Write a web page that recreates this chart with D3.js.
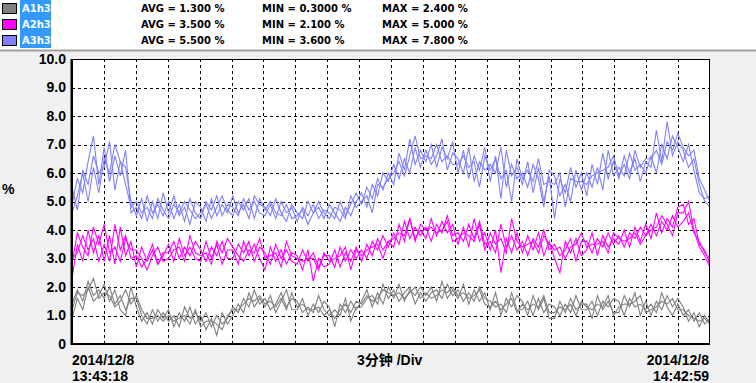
<!DOCTYPE html>
<html>
<head>
<meta charset="utf-8">
<script src="https://cdn.jsdelivr.net/npm/d3@7"></script>
<style>
body { margin: 0; background: #f0f0f0; }
svg { display: block; }
</style>
</head>
<body>
<svg id="chart"></svg>
<script>
// harmonic trend data, 120 samples per trace (6 per division), 3 traces per harmonic
const names = ["A1h3", "A2h3", "A3h3"];
const colors = ["#808080", "#ff00ff", "#8080ff"];
const avgs = ["1.300", "3.500", "5.500"];
const mins = ["0.3000", "2.100", "3.600"];
const maxs = ["2.400", "5.000", "7.800"];
const yTicks = [0, 1, 2, 3, 4, 5, 6, 7, 8, 9, 10];
const startLabel = ["2014/12/8", "13:43:18"];
const endLabel = ["2014/12/8", "14:42:59"];
const divLabel = "3分钟 /Div";

const a1 = [
[0.9,1.6,1.2,2.0,1.5,1.7, 2.1,1.5,1.9,1.2,1.0,2.0, 1.3,0.8,1.1,0.7,1.2,0.9, 1.2,0.6,1.1,0.8,1.3,0.7,
 1.0,0.5,0.9,0.3,1.1,0.7, 1.0,1.4,1.1,1.8,1.3,1.6, 1.3,1.7,1.1,1.5,1.9,1.2, 1.2,1.6,1.0,1.4,1.1,1.5,
 1.3,0.6,1.4,1.1,1.5,1.2, 1.5,1.9,1.3,1.8,1.4,2.0, 1.6,2.1,1.5,1.9,1.7,2.0, 1.7,2.0,1.5,2.2,1.6,1.9,
 1.6,2.1,1.4,1.9,1.5,1.8, 1.2,1.8,1.0,1.6,1.3,1.7, 1.5,1.0,1.7,1.2,1.6,0.9, 0.9,1.5,1.1,1.6,1.2,1.4,
 1.4,0.9,1.7,1.2,1.5,1.1, 1.1,1.7,1.3,1.8,1.0,1.5, 1.0,1.5,1.2,1.7,1.3,1.6, 1.3,0.8,1.1,0.6,1.0,0.7],
[1.4,1.9,1.5,2.2,1.7,1.9, 1.6,2.0,1.4,1.7,1.2,1.6, 1.6,1.0,0.7,1.2,0.8,1.1, 0.8,1.0,0.6,1.3,0.9,1.1,
 0.8,1.1,0.6,1.0,0.7,0.9, 1.3,1.1,1.6,1.3,1.9,1.4, 1.6,1.2,1.4,1.8,1.3,1.6, 1.5,1.1,1.3,1.1,1.7,1.2,
 1.0,1.2,1.0,1.6,0.8,1.3, 1.3,1.6,1.7,1.4,2.1,1.6, 1.9,1.5,1.8,2.0,1.4,1.8, 1.5,1.8,1.9,1.6,2.1,1.7,
 1.9,1.5,1.8,1.5,2.0,1.6, 1.5,1.3,1.4,1.1,1.8,1.2, 1.2,1.5,1.0,1.6,1.1,1.4, 1.3,1.0,1.4,1.1,1.7,1.2,
 1.2,1.5,1.0,1.5,1.3,1.6, 1.5,1.0,1.6,1.3,1.4,1.2, 1.4,1.1,1.8,1.3,1.0,1.4, 1.0,1.2,0.8,1.1,0.7,0.9],
[1.2,1.8,1.7,1.9,2.3,1.6, 1.8,1.7,1.3,1.5,1.9,1.4, 1.7,1.2,0.9,0.9,1.0,0.8, 1.0,0.8,0.9,1.0,0.7,1.2,
 0.6,0.8,0.8,0.7,0.5,1.0, 1.2,1.2,1.4,1.6,1.5,1.7, 1.4,1.5,1.3,1.6,1.2,1.8, 1.3,1.4,1.2,1.2,1.3,1.0,
 1.2,0.9,1.2,1.4,1.1,1.5, 1.4,1.7,1.5,1.6,1.9,1.8, 1.7,1.8,1.6,1.8,2.0,1.6, 1.8,1.6,1.7,1.9,1.8,2.0,
 1.7,1.8,1.6,1.7,1.9,1.4, 1.3,1.5,1.2,1.4,1.6,1.1, 1.4,1.2,1.4,1.3,1.7,1.1, 1.1,1.3,1.2,1.4,1.0,1.5,
 1.3,1.2,1.4,1.3,1.7,1.0, 1.3,1.4,1.4,1.5,1.7,1.1, 1.2,1.3,1.5,1.4,1.6,1.2, 1.2,1.0,0.9,0.8,0.9,0.7]
];
const a2 = [
[2.3,3.5,2.9,4.0,3.2,3.8, 2.9,3.8,2.8,4.1,3.1,3.6, 2.7,3.4,2.9,3.3,2.8,3.1, 3.5,2.9,3.7,3.1,3.4,3.0,
 2.9,3.6,3.0,3.5,2.8,3.3, 3.3,2.8,3.6,3.1,3.5,3.0, 2.6,3.4,2.9,3.3,2.8,3.2, 3.1,2.6,3.3,2.2,3.0,2.7,
 2.8,3.3,2.7,3.2,2.9,3.4, 2.9,3.5,3.1,3.7,3.3,3.6, 3.4,4.2,3.6,4.4,3.7,4.0, 3.7,4.4,3.8,4.3,3.9,4.2,
 3.5,4.1,3.4,4.4,3.6,3.9, 3.3,4.0,2.5,3.7,3.2,3.9, 3.2,3.8,3.3,3.9,3.1,3.6, 3.0,2.5,3.6,3.2,3.7,3.1,
 3.3,3.9,3.1,3.8,3.4,3.7, 3.5,4.0,3.4,4.1,3.6,4.2, 3.7,4.6,3.9,4.4,4.1,4.8, 4.9,4.2,4.4,3.5,3.3,2.8],
[3.0,3.2,3.8,3.3,3.7,2.9, 3.5,2.9,4.2,3.3,3.8,3.0, 3.1,2.7,3.0,3.5,2.8,3.2, 3.2,3.6,3.0,3.4,3.1,3.6,
 3.3,2.9,3.4,3.1,3.6,3.0, 3.0,3.5,3.2,3.6,2.9,3.4, 3.2,2.8,3.5,3.0,3.3,2.9, 2.8,3.3,2.9,3.2,2.7,3.1,
 3.1,2.7,3.4,2.9,3.3,3.0, 3.3,3.0,3.6,3.3,3.8,3.4, 3.9,3.5,4.3,3.7,4.1,3.8, 4.1,3.6,4.2,3.9,4.5,3.8,
 3.9,3.6,4.2,3.7,4.3,3.5, 3.6,3.2,4.2,3.4,3.8,3.3, 3.6,3.1,3.7,3.4,4.0,3.3, 3.5,3.1,3.3,3.7,2.9,3.6,
 3.6,3.2,3.7,3.4,3.9,3.5, 3.8,3.4,3.9,3.7,4.1,3.8, 4.2,3.8,4.3,4.0,4.5,4.1, 4.3,4.6,3.9,3.6,3.2,3.0],
[2.8,3.9,3.4,3.1,4.1,3.5, 4.2,3.2,3.4,2.9,3.7,3.3, 3.3,3.0,2.6,3.1,3.4,2.9, 3.0,3.3,3.4,2.9,3.8,3.2,
 3.1,3.2,2.8,3.6,3.2,3.7, 3.4,3.1,2.9,3.3,3.2,3.7, 3.0,3.1,3.2,2.7,3.6,3.1, 3.0,2.9,3.0,3.0,2.6,3.2,
 2.9,3.0,3.1,3.4,2.6,3.3, 3.1,3.3,3.4,3.5,3.0,3.6, 3.7,3.9,3.8,4.4,3.6,4.2, 4.0,4.1,3.9,4.0,4.3,3.6,
 3.7,3.9,3.8,3.6,4.2,3.3, 3.9,3.5,3.7,3.2,4.4,3.6, 3.4,3.5,3.6,3.2,3.8,3.5, 3.3,3.4,3.0,3.4,3.5,3.9,
 3.4,3.5,3.5,3.6,3.2,3.9, 3.7,3.6,3.7,3.9,3.5,3.8, 4.0,4.1,4.5,4.2,3.8,4.6, 4.6,5.0,4.0,3.4,3.1,2.7]
];
const a3 = [
[4.9,5.8,5.3,6.4,7.3,5.6, 6.9,5.7,6.6,5.9,6.8,4.6, 4.8,4.4,5.2,4.6,4.9,4.5, 5.0,4.4,4.9,4.3,5.1,4.6,
 4.4,5.0,4.7,5.2,4.5,4.9, 4.8,4.5,5.1,4.7,5.0,4.6, 4.5,4.9,4.4,5.0,4.6,4.8, 4.3,4.8,4.5,4.9,4.4,4.7,
 4.6,4.4,5.0,4.5,4.9,5.3, 4.9,5.5,5.1,5.8,5.4,6.0, 5.6,6.7,6.1,7.2,6.3,6.8, 6.4,7.0,6.2,6.9,6.5,7.1,
 6.0,6.8,5.8,6.6,6.1,6.9, 5.7,6.6,5.1,6.8,5.9,6.2, 5.6,6.4,5.3,6.2,5.0,5.9, 4.4,5.8,5.3,6.2,5.5,6.0,
 5.2,6.3,5.6,6.7,5.8,6.4, 5.8,6.6,6.0,6.5,5.7,6.4, 6.2,7.5,6.4,7.8,6.6,7.1, 6.8,6.2,6.5,5.6,5.0,4.8],
[5.5,4.7,6.1,5.6,6.6,6.0, 6.2,7.1,5.4,6.4,6.2,5.0, 4.5,5.1,4.3,5.0,4.4,5.3, 4.6,5.2,4.5,4.8,4.2,5.0,
 4.8,4.3,5.1,4.5,4.9,4.6, 5.2,4.6,4.9,4.4,5.2,4.9, 4.8,4.5,5.1,4.6,4.3,4.9, 4.6,4.4,5.0,4.6,4.8,4.4,
 4.9,4.6,4.3,4.8,4.5,5.0, 5.3,4.8,5.6,5.2,6.0,5.7, 6.3,5.8,6.5,6.0,6.9,6.2, 6.8,6.3,6.6,7.2,6.1,6.7,
 6.5,6.0,6.9,5.7,6.4,6.1, 6.3,6.0,6.9,5.5,6.3,5.8, 6.0,5.5,6.3,5.8,4.8,6.1, 5.9,5.2,5.6,5.0,6.1,5.4,
 6.0,5.5,6.2,5.4,6.8,5.9, 6.2,5.9,6.7,6.1,6.3,6.0, 6.6,6.0,7.0,6.5,7.3,6.9, 6.4,7.0,6.1,5.3,5.1,5.2],
[4.6,5.2,6.0,5.0,6.2,5.3, 6.5,6.0,7.0,6.4,5.6,4.8, 5.0,4.6,4.8,4.4,5.1,4.7, 4.4,4.9,4.6,5.0,4.7,4.4,
 4.6,4.9,4.4,4.8,5.2,4.7, 4.5,5.0,4.7,5.1,4.4,5.1, 4.7,5.0,4.6,4.5,4.9,4.4, 4.5,4.7,4.2,4.6,5.0,4.6,
 4.4,4.8,4.7,4.4,5.2,4.8, 5.0,5.2,4.6,5.6,5.5,5.8, 6.0,6.4,5.9,6.6,7.3,6.5, 6.6,6.5,7.0,6.4,6.6,6.3,
 6.3,6.6,6.2,6.4,5.5,6.6, 6.1,6.5,5.8,6.1,5.0,6.5, 5.8,6.1,5.7,6.5,5.6,5.7, 5.6,6.0,4.8,5.8,5.7,5.7,
 5.6,5.9,6.0,6.1,6.2,6.6, 5.9,6.3,5.8,6.8,6.2,6.5, 6.5,6.8,6.3,7.1,6.8,7.4, 6.9,6.6,6.8,5.8,5.4,5.0]
];
const series = [a1, a2, a3];

const W = 756, H = 383;
const m = {left: 72, right: 710, top: 59, bottom: 344};

const svg = d3.select("#chart").attr("width", W).attr("height", H);

// header strip
svg.append("rect").attr("x", 0).attr("y", 0).attr("width", W).attr("height", 50).attr("fill", "#fff");
svg.append("line").attr("x1", 0).attr("x2", W).attr("y1", 50.5).attr("y2", 50.5)
  .attr("stroke", "#a0a0a0").attr("stroke-width", 2);

// legend rows
svg.append("rect").attr("x", 20).attr("y", 0).attr("width", 31).attr("height", 48).attr("fill", "#3399ff");
const leg = svg.selectAll("g.leg").data(names).enter().append("g")
  .attr("class", "leg")
  .attr("transform", (d, i) => "translate(0," + (i * 16) + ")");
leg.append("rect").attr("x", 2.5).attr("y", 3.5).attr("width", 14).attr("height", 10)
  .attr("fill", (d, i) => colors[i]).attr("stroke", "#000");
leg.append("text").attr("x", 22).attr("y", 11.5).attr("fill", "#fff")
  .style("font", "bold 10px 'DejaVu Sans'").text(d => d);
leg.append("text").attr("x", 141).attr("y", 11.5)
  .style("font", "bold 10px 'DejaVu Sans'").text((d, i) => "AVG = " + avgs[i] + " %");
leg.append("text").attr("x", 262).attr("y", 11.5)
  .style("font", "bold 10px 'DejaVu Sans'").text((d, i) => "MIN = " + mins[i] + " %");
leg.append("text").attr("x", 382).attr("y", 11.5)
  .style("font", "bold 10px 'DejaVu Sans'").text((d, i) => "MAX = " + maxs[i] + " %");

const n = a1[0].length;
const x = d3.scaleLinear().domain([0, n - 1]).range([m.left, m.right]);
const y = d3.scaleLinear().domain([0, 10]).range([m.bottom, m.top]);

// plot background
svg.append("rect").attr("x", m.left).attr("y", m.top)
  .attr("width", m.right - m.left).attr("height", m.bottom - m.top).attr("fill", "#fff");

// grid
const gx = d3.scaleLinear().domain([0, 20]).range([m.left, m.right]);
svg.append("g").selectAll("line").data(d3.range(1, 20)).enter().append("line")
  .attr("x1", d => Math.round(gx(d)) + 0.5).attr("x2", d => Math.round(gx(d)) + 0.5)
  .attr("y1", m.top).attr("y2", m.bottom)
  .attr("stroke", "#000").attr("stroke-dasharray", "3,3");
svg.append("g").selectAll("line").data(yTicks.slice(1, 10)).enter().append("line")
  .attr("y1", d => Math.round(y(d)) + 0.5).attr("y2", d => Math.round(y(d)) + 0.5)
  .attr("x1", m.left).attr("x2", m.right)
  .attr("stroke", "#000").attr("stroke-dasharray", "3,3");

svg.append("clipPath").attr("id", "clip").append("rect")
  .attr("x", m.left).attr("y", m.top).attr("width", m.right - m.left).attr("height", m.bottom - m.top);

const line = d3.line().x((d, i) => x(i)).y(d => y(d));
const plot = svg.append("g").attr("clip-path", "url(#clip)");
series.forEach((traces, s) => {
  plot.selectAll(null).data(traces).enter().append("path")
    .attr("d", line)
    .attr("fill", "none")
    .attr("stroke", colors[s])
    .attr("stroke-width", 1.1);
});

// frame
svg.append("rect").attr("x", m.left + 0.5).attr("y", m.top + 0.5)
  .attr("width", m.right - m.left - 1).attr("height", m.bottom - m.top - 1)
  .attr("fill", "none").attr("stroke", "#000");
svg.append("line").attr("x1", m.left - 0.5).attr("x2", m.left - 0.5).attr("y1", m.top).attr("y2", m.bottom + 1)
  .attr("stroke", "#000").attr("stroke-width", 2);
svg.append("line").attr("x1", m.left - 1).attr("x2", m.right).attr("y1", m.bottom).attr("y2", m.bottom)
  .attr("stroke", "#000").attr("stroke-width", 2);

// y axis labels
const yAxis = d3.axisLeft(y).tickValues(yTicks)
  .tickFormat(d => d === 0 ? "0" : d3.format(".1f")(d)).tickSize(0).tickPadding(6);
svg.append("g").attr("transform", "translate(" + m.left + ",0)").call(yAxis)
  .call(g => g.select(".domain").remove())
  .selectAll("text").style("font", "bold 14px 'Liberation Sans'").attr("fill", "#000");

svg.append("text").attr("x", 2).attr("y", 194).style("font", "bold 14px 'Liberation Sans'").text("%");

// bottom labels
const lab = "bold 14px 'Liberation Sans'";
startLabel.forEach((t, i) => svg.append("text").attr("x", m.left).attr("y", 365 + i * 16)
  .style("font", lab).text(t));
endLabel.forEach((t, i) => svg.append("text").attr("x", m.right - 1).attr("y", 365 + i * 16)
  .attr("text-anchor", "end").style("font", lab).text(t));
svg.append("text").attr("x", 357).attr("y", 365)
  .style("font", "bold 14px 'Liberation Sans', 'Noto Sans CJK SC'").text(divLabel);
</script>
</body>
</html>
